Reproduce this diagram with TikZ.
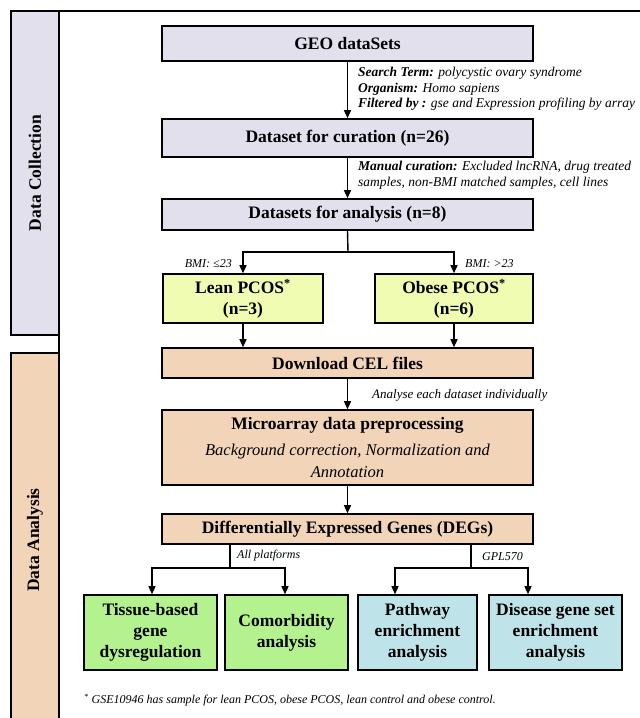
\documentclass[tikz,border=0pt]{standalone}
\usepackage{fontspec}
\setmainfont{Liberation Serif}
\usepackage{xcolor}
\definecolor{lavender}{RGB}{226, 224, 236}
\definecolor{paleyellow}{RGB}{240, 252, 178}
\definecolor{peach}{RGB}{242, 212, 184}
\definecolor{palegreen}{RGB}{180, 242, 144}
\definecolor{paleblue}{RGB}{190, 228, 234}
\usepackage{tikz}
\usetikzlibrary{positioning, arrows.meta}
\newcommand{\subline}[1]{{\fontsize{16.5}{22}\selectfont\mdseries\itshape #1}}

\begin{document}
\begin{tikzpicture}[
    x=1pt, y=-1pt,
    font=\fontsize{17.5}{21}\selectfont\bfseries,
    stage/.style={rectangle, draw=black, line width=1.6pt, inner sep=1pt, align=center},
    collect/.style={stage, fill=lavender, minimum width=371pt},
    group/.style={stage, fill=paleyellow, minimum height=49pt},
    process/.style={stage, fill=peach, minimum width=371pt},
    result/.style={stage, minimum height=75pt},
    note/.style={font=\fontsize{13.5}{15.5}\selectfont\itshape, align=left, inner sep=0pt},
    small/.style={font=\fontsize{12}{14}\selectfont\itshape, inner sep=0pt},
    flow/.style={->, >={Triangle[length=8pt,width=7pt]}, line width=1.4pt},
    joint/.style={line width=1.4pt}
]
    \useasboundingbox (0,0) rectangle (640,718);

    % side panels and frame
    \fill[lavender] (11,11) rectangle (59,335);
    \draw[line width=1.8pt] (59,335) -- (11,335) -- (11,11) -- (640,11);
    \fill[peach] (11,353) rectangle (59,718);
    \draw[line width=1.8pt] (59,353) -- (11,353) -- (11,718);
    \draw[line width=1.8pt] (59,11) -- (59,718);
    \node[rotate=90] (collection) at (35,173) {Data Collection};
    \node[rotate=90] (analysis) at (35,540) {Data Analysis};

    % data collection
    \node[collect, minimum height=35pt] (geo) at (347.5,43.5) {GEO dataSets};
    \node[collect, minimum height=38pt] (cur) at (347.5,138) {Dataset for curation (n=26)};
    \node[collect, minimum height=31pt] (ana) at (347.5,214.5) {Datasets for analysis (n=8)};

    \node[note, anchor=north west] (search) at (358,67) {\textbf{Search Term:} polycystic ovary syndrome\\
        \textbf{Organism:} Homo sapiens\\
        \textbf{Filtered by :} gse and Expression profiling by array};
    \node[note, anchor=north west] (manual) at (358,161) {\textbf{Manual curation:} Excluded lncRNA, drug treated\\
        samples, non-BMI matched samples, cell lines};

    \node[group, minimum width=160pt] (lean) at (243,298.5) {Lean PCOS\textsuperscript{*}\\(n=3)};
    \node[group, minimum width=158pt] (obese) at (454,298.5) {Obese PCOS\textsuperscript{*}\\(n=6)};

    % data analysis
    \node[process, minimum height=30pt] (cel) at (347.5,363) {Download CEL files};
    \node[process, minimum height=75pt] (pre) at (347.5,447.5) {Microarray data preprocessing\\[5pt]
        \subline{Background correction, Normalization and}\\[1pt]
        \subline{Annotation}};
    \node[process, minimum height=30pt] (deg) at (347.5,529) {Differentially Expressed Genes (DEGs)};

    \node[result, fill=palegreen, minimum width=133pt] (tis) at (150.5,632.5) {Tissue-based\\gene\\dysregulation};
    \node[result, fill=palegreen, minimum width=123pt] (com) at (286.5,632.5) {Comorbidity\\analysis};
    \node[result, fill=paleblue, minimum width=119pt] (pathw) at (417.5,632.5) {Pathway\\enrichment\\analysis};
    \node[result, fill=paleblue, minimum width=133pt] (dis) at (555.5,632.5) {Disease gene set\\enrichment\\analysis};

    \node[small, anchor=east] (bmilow) at (232,264) {BMI: ≤23};
    \node[small, anchor=west] (bmihigh) at (465,264) {BMI: >23};
    \node[small, anchor=west, font=\fontsize{13}{15}\selectfont\itshape] (each) at (372,395) {Analyse each dataset individually};
    \node[small, anchor=west] (allplat) at (237,556) {All platforms};
    \node[small, anchor=west] (gpl) at (482,557) {GPL570};
    \node[small, anchor=west] (foot) at (84,700) {\textsuperscript{*} GSE10946 has sample for lean PCOS, obese PCOS, lean control and obese control.};

    % connectors
    \coordinate (bmisplit) at (348,252);
    \coordinate (allsplit) at (230,568);
    \coordinate (gplsplit) at (471,568);

    \draw[flow] (geo) -- (cur);
    \draw[flow] (cur) -- (ana);
    \draw[joint] (ana.south) -- (bmisplit);
    \draw[flow] (bmisplit) -| (lean.north);
    \draw[flow] (bmisplit) -| (obese.north);
    \draw[flow] (lean.south) -- (lean.south |- cel.north);
    \draw[flow] (obese.south) -- (obese.south |- cel.north);
    \draw[flow] (cel) -- (pre);
    \draw[flow] (pre) -- (deg);

    \draw[joint] (deg.south -| allsplit) -- (allsplit);
    \draw[flow] (allsplit) -| ([xshift=1.5pt]tis.north);
    \draw[flow] (allsplit) -| ([xshift=-1.5pt]com.north);
    \draw[joint] (deg.south -| gplsplit) -- (gplsplit);
    \draw[flow] (gplsplit) -| ([xshift=-22.5pt]pathw.north);
    \draw[flow] (gplsplit) -| ([xshift=-27.5pt]dis.north);
\end{tikzpicture}
\end{document}
